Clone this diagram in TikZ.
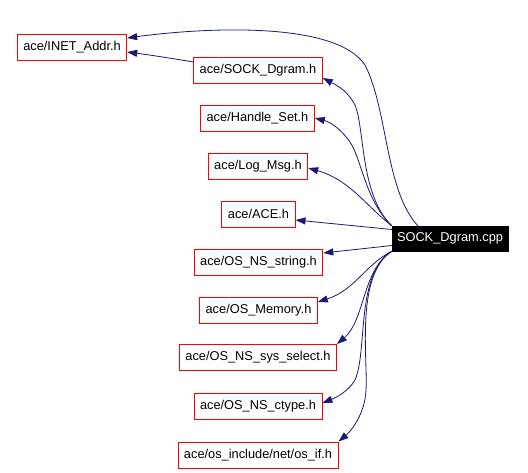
\documentclass[tikz,border=0pt]{standalone}
\usepackage{fontspec}
\setmainfont{Liberation Sans}
\usetikzlibrary{arrows.meta}
\definecolor{edgeblue}{HTML}{191970}
\begin{document}
\begin{tikzpicture}[x=1pt,y=-1pt,
  hdr/.style={draw=red,line width=0.9pt,fill=white,minimum height=26pt,inner xsep=6pt,inner ysep=0pt,font=\fontsize{12.8}{14}\selectfont},
  src/.style={draw=black,fill=black,text=white,minimum height=25pt,inner xsep=5pt,inner ysep=0pt,font=\fontsize{12.8}{14}\selectfont},
  dep/.style={draw=edgeblue,line width=0.8pt,-{Triangle[length=10pt,width=7pt]}}]
\useasboundingbox (0,0) rectangle (528,472);
\node[hdr] (inet)  at (72,47)    {ace/INET\_Addr.h};
\node[hdr] (sockh) at (258,70)   {ace/SOCK\_Dgram.h};
\node[hdr] (hset)  at (257.5,118){ace/Handle\_Set.h};
\node[hdr] (log)   at (258,166)  {ace/Log\_Msg.h};
\node[hdr] (ace)   at (258.5,214){ace/ACE.h};
\node[hdr] (nsstr) at (258.5,262){ace/OS\_NS\_string.h};
\node[hdr] (mem)   at (258.5,310){ace/OS\_Memory.h};
\node[hdr] (sel)   at (258,357.5){ace/OS\_NS\_sys\_select.h};
\node[hdr] (ctype) at (258,406)  {ace/OS\_NS\_ctype.h};
\node[hdr] (osif)  at (258,455)  {ace/os\_include/net/os\_if.h};
\node[src] (cpp)   at (450,238.5){SOCK\_Dgram.cpp};
% edges
\draw[dep] ([xshift=26pt]cpp.north west) .. controls (385,190) and (388,110) .. (365,65)
   .. controls (335,20) and (200,28) .. ([yshift=9pt]inet.east);
\draw[dep] ([yshift=8pt]sockh.west) .. controls (170,58) and (150,55) .. ([yshift=-5pt]inet.east);
\draw[dep] (cpp.north west) .. controls (360,195) and (365,130) .. (355,105)
   .. controls (348,92) and (340,87) .. ([yshift=-8pt]sockh.east);
\draw[dep] (cpp.north west) .. controls (365,200) and (362,160) .. (350,142)
   .. controls (340,128) and (330,122) .. (hset.east);
\draw[dep] (cpp.north west) .. controls (365,205) and (350,180) .. ([yshift=-2pt]log.east);
\draw[dep] ([yshift=9pt]cpp.west) -- ([yshift=-6pt]ace.east);
\draw[dep] ([yshift=-7pt]cpp.west) -- ([yshift=9pt]nsstr.east);
\draw[dep] (cpp.south west) .. controls (365,265) and (355,290) .. ([yshift=8pt]mem.east);
\draw[dep] (cpp.south west) .. controls (362,270) and (365,320) .. (sel.north east);
\draw[dep] (cpp.south west) .. controls (355,275) and (368,350) .. (355,380)
   .. controls (348,392) and (335,398) .. ([yshift=3pt]ctype.east);
\draw[dep] (cpp.south west) .. controls (355,275) and (368,360) .. (366,390)
   .. controls (365,415) and (350,432) .. (osif.north east);
\end{tikzpicture}
\end{document}
